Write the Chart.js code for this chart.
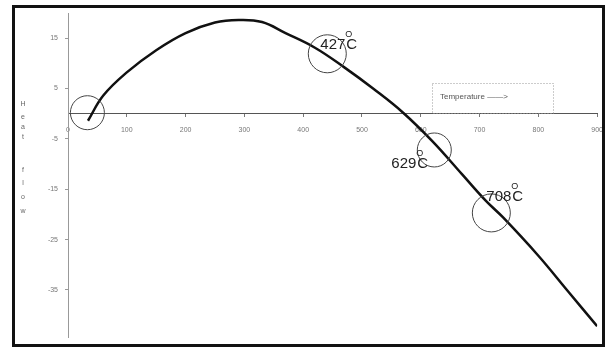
<!DOCTYPE html>
<html>
<head>
<meta charset="utf-8">
<script src="https://cdn.jsdelivr.net/npm/chart.js@4.4.1/dist/chart.umd.min.js"></script>
<style>
  html,body{margin:0;padding:0;background:#fff;}
  #wrap{position:relative;width:612px;height:349px;}
  #frame{position:absolute;left:12px;top:5px;width:587px;height:336px;border:3px solid #111;pointer-events:none;}
</style>
</head>
<body>
<div id="wrap">
<canvas id="c" width="612" height="349"></canvas>
<div id="frame"></div>
</div>
<script>
// ---- data ----
const temperature = [34, 60, 100, 150, 200, 250, 290, 330, 370, 420, 470, 520, 570, 620, 670, 710, 740, 800, 850, 900];
const heatFlow    = [-1.4, 3.6, 8.2, 12.6, 16.0, 18.1, 18.6, 18.2, 16.0, 13.1, 9.2, 4.9, 0.2, -5.5, -12.0, -17.2, -20.6, -28.2, -35.2, -42.2];
const yTickValues = [15, 5, -5, -15, -25, -35];
const xTickValues = [0, 100, 200, 300, 400, 500, 600, 700, 800, 900];
const markerTemps = [33, 441, 623, 720];
const markerFlows = [0.2, 11.9, -7.2, -19.7];
const markerLabels = ['', '427', '629', '708'];
const yLabelLetters = ['H','e','a','t','','f','l','o','w'];
const legendText = 'Temperature \u2014\u2014>';

const points = temperature.map((t, i) => ({x: t, y: heatFlow[i]}));

const annot = {
  id: 'annot',
  afterDatasetsDraw(chart) {
    const ctx = chart.ctx, xs = chart.scales.x, ys = chart.scales.y;
    const radii = [17, 19, 17, 19];
    const textOff = [[0,0],[-7,-5],[-43,18],[-5,-12]];
    ctx.save();
    ctx.strokeStyle = '#444';
    ctx.lineWidth = 1;
    markerTemps.forEach((t, i) => {
      const px = xs.getPixelForValue(t), py = ys.getPixelForValue(markerFlows[i]);
      ctx.beginPath();
      ctx.arc(px, py, radii[i], 0, Math.PI * 2);
      ctx.stroke();
      if (markerLabels[i]) {
        const tx = px + textOff[i][0], ty = py + textOff[i][1];
        ctx.fillStyle = '#222';
        ctx.textBaseline = 'alphabetic';
        ctx.textAlign = 'left';
        ctx.font = '15px "Liberation Sans", Arial, sans-serif';
        ctx.fillText(markerLabels[i], tx, ty);
        const w = ctx.measureText(markerLabels[i]).width;
        ctx.font = '9px "Liberation Sans", Arial, sans-serif';
        ctx.fillText('O', tx + w, ty - 12);
        ctx.font = '15px "Liberation Sans", Arial, sans-serif';
        ctx.fillText('C', tx + w + 1, ty);
      }
    });
    // legend box
    ctx.setLineDash([1, 2]);
    ctx.strokeStyle = '#999';
    ctx.strokeRect(432.5, 83.5, 121, 30);
    ctx.setLineDash([]);
    ctx.fillStyle = '#555';
    ctx.font = '8px "Liberation Sans", Arial, sans-serif';
    ctx.textBaseline = 'middle';
    ctx.fillText(legendText, 440, 97);
    // vertical y-axis title
    ctx.textAlign = 'center';
    ctx.font = '7px "Liberation Sans", Arial, sans-serif';
    ctx.fillStyle = '#666';
    const ys0 = [104, 117, 127, 137, 0, 170, 183, 197, 211];
    yLabelLetters.forEach((l, i) => { if (l) ctx.fillText(l, 23, ys0[i]); });
    ctx.restore();
  }
};

new Chart(document.getElementById('c'), {
  type: 'scatter',
  data: {
    datasets: [{
      label: 'Heat flow',
      data: points,
      showLine: true,
      borderColor: '#111',
      borderWidth: 2.5,
      pointRadius: 0,
      tension: 0.4,
      fill: false
    }]
  },
  options: {
    responsive: false,
    animation: false,
    devicePixelRatio: 1,
    layout: { padding: { left: 38, top: 13, right: 14, bottom: 6 } },
    plugins: { legend: { display: false }, tooltip: { enabled: false } },
    scales: {
      x: {
        type: 'linear',
        position: { y: 0 },
        min: 0, max: 900,
        afterBuildTicks(s) { s.ticks = xTickValues.map(v => ({value: v})); },
        border: { color: '#555', width: 1 },
        grid: { drawOnChartArea: false, drawTicks: true, tickLength: 3, color: '#777' },
        ticks: { color: '#777', font: { size: 7, family: '"Liberation Sans", Arial' }, padding: 9, maxRotation: 0 }
      },
      y: {
        type: 'linear',
        min: -44.5, max: 20,
        afterFit(s) { s.width = 30; },
        afterBuildTicks(s) { s.ticks = yTickValues.map(v => ({value: v})); },
        border: { color: '#999', width: 1 },
        grid: { drawOnChartArea: false, drawTicks: true, tickLength: 3, color: '#999' },
        ticks: { color: '#777', font: { size: 7, family: '"Liberation Sans", Arial' }, padding: 7 }
      }
    }
  },
  plugins: [annot]
});
</script>
</body>
</html>
